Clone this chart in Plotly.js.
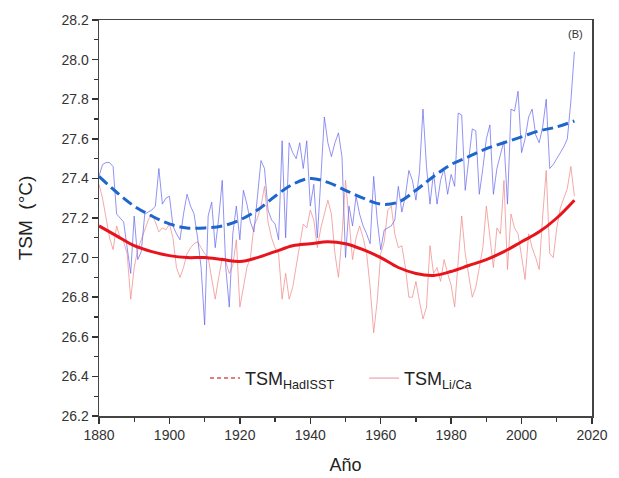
<!DOCTYPE html>
<html>
<head>
<meta charset="utf-8">
<script src="https://cdn.plot.ly/plotly-3.0.1.min.js"></script>
<style>html,body{margin:0;padding:0;background:#fff;}#chart{width:619px;height:478px;}</style>
</head>
<body>
<div id="chart"></div>
<script>
// Annual series 1880-2015
var startYear = 1880;
var hadisstRaw = [
27.41,27.47,27.48,27.48,27.46,27.22,27.20,27.18,27.05,26.92,
27.21,26.99,27.03,27.22,27.23,27.24,27.26,27.45,27.27,27.30,
27.31,27.16,27.12,27.09,27.22,27.32,27.26,27.22,27.10,26.95,
26.66,27.21,27.28,27.05,27.20,27.39,26.95,26.75,27.12,27.26,
27.09,27.34,27.27,27.18,27.13,27.32,27.49,27.45,27.24,27.19,
27.17,27.09,27.59,27.10,27.58,27.53,27.50,27.58,27.45,27.59,
27.26,27.37,27.10,27.40,27.71,27.58,27.51,27.58,27.63,27.51,
27.00,27.26,27.16,27.31,27.22,27.16,27.12,27.07,27.41,27.19,
27.04,27.14,27.15,27.16,27.19,27.36,27.23,27.31,27.44,27.39,
27.29,27.43,27.75,27.46,27.27,27.43,27.27,27.39,27.45,27.32,
27.42,27.36,27.73,27.72,27.34,27.50,27.65,27.64,27.32,27.45,
27.60,27.67,27.32,27.45,27.52,27.59,27.27,27.75,27.74,27.84,
27.53,27.60,27.71,27.75,27.62,27.58,27.66,27.80,27.45,27.47,
27.50,27.53,27.56,27.60,27.79,28.04
];
var liCaRaw = [
27.37,27.30,27.20,27.10,27.04,27.16,27.10,27.08,27.02,26.79,
26.95,27.04,27.09,27.14,27.19,27.22,27.18,27.13,27.15,27.14,
27.17,27.10,26.95,26.90,26.95,27.02,27.05,27.07,27.08,27.05,
27.02,27.00,26.90,26.79,26.90,27.00,26.98,26.92,26.96,27.09,
26.75,26.85,26.95,27.00,27.16,27.20,27.26,27.36,27.18,27.10,
27.05,27.02,26.79,26.92,26.79,26.85,26.95,27.06,27.17,27.15,
27.24,27.19,27.05,27.15,27.22,27.29,27.22,27.02,26.90,27.11,
27.39,27.20,26.99,27.10,27.16,27.10,27.02,26.85,26.62,26.78,
27.02,27.08,27.24,27.26,27.12,27.05,27.06,26.95,26.80,26.80,
26.88,26.78,26.69,26.75,27.06,26.92,26.95,26.88,26.99,26.92,
26.86,26.75,26.99,27.21,27.02,26.92,26.80,26.85,26.95,27.05,
27.26,27.10,26.95,27.15,27.12,27.39,26.94,27.22,27.15,27.12,
27.00,26.89,27.12,27.05,27.00,26.94,27.21,27.44,27.02,27.00,
27.15,27.25,27.30,27.35,27.46,27.31
];
// Smoothed curves, every 5 years
var smoothYears = [1880,1885,1890,1895,1900,1905,1910,1915,1920,1925,1930,1935,1940,1945,1950,1955,1960,1965,1970,1975,1980,1985,1990,1995,2000,2005,2010,2015];
var hadisstSmooth = [27.41,27.33,27.26,27.21,27.17,27.15,27.15,27.16,27.19,27.24,27.31,27.37,27.40,27.38,27.34,27.30,27.27,27.28,27.34,27.41,27.47,27.51,27.55,27.58,27.61,27.64,27.66,27.69];
var liCaSmooth = [27.16,27.11,27.06,27.03,27.01,27.00,27.00,26.99,26.98,27.00,27.03,27.06,27.07,27.08,27.07,27.04,27.00,26.95,26.92,26.91,26.93,26.96,26.99,27.03,27.08,27.13,27.20,27.29];

var years = [];
for (var i = 0; i < hadisstRaw.length; i++) years.push(startYear + i);

var legendNames = ['TSM<sub>HadISST</sub>&nbsp;&nbsp;&nbsp;&nbsp;&nbsp;', 'TSM<sub>Li/Ca</sub>'];

var traces = [
  {x: years, y: liCaRaw, mode: 'lines', line: {color: 'rgba(240,140,140,0.75)', width: 1}, showlegend: false, hoverinfo: 'skip'},
  {x: years, y: hadisstRaw, mode: 'lines', line: {color: 'rgba(100,100,240,0.7)', width: 1}, showlegend: false, hoverinfo: 'skip'},
  {x: smoothYears, y: liCaSmooth, mode: 'lines', line: {color: '#e8141c', width: 3, shape: 'spline'}, showlegend: false},
  {x: smoothYears, y: hadisstSmooth, mode: 'lines', line: {color: '#1e66cc', width: 3, shape: 'spline', dash: '11px,5px'}, showlegend: false},
  {x: [null], y: [null], mode: 'lines', name: legendNames[0], line: {color: '#e0505a', width: 1.5, dash: '4px,3px'}},
  {x: [null], y: [null], mode: 'lines', name: legendNames[1], line: {color: 'rgba(240,170,185,0.9)', width: 1.5}}
];

var axisFont = {family: 'Liberation Sans, Arial, sans-serif', size: 14, color: '#333'};
var layout = {
  width: 619, height: 478,
  margin: {l: 99, r: 27, t: 20, b: 62},
  paper_bgcolor: '#fff', plot_bgcolor: '#fff',
  showlegend: true,
  legend: {orientation: 'h', x: 0.215, y: 0.095, xanchor: 'left', yanchor: 'middle',
    font: {family: 'Liberation Sans, Arial, sans-serif', size: 18, color: '#222'},
    bgcolor: 'rgba(0,0,0,0)', itemwidth: 30, tracegroupgap: 0},
  xaxis: {range: [1880, 2020], dtick: 20, tick0: 1880, ticks: 'outside', ticklen: 6, tickwidth: 1.5, tickcolor: '#333',
    showline: true, linecolor: '#444', linewidth: 1.5, mirror: true, showgrid: false, zeroline: false,
    minor: {dtick: 10, ticks: 'outside', ticklen: 4, tickwidth: 1.2, tickcolor: '#333', showgrid: false},
    tickfont: axisFont,
    title: {text: 'Año', font: {family: 'Liberation Sans, Arial, sans-serif', size: 18, color: '#222'}, standoff: 16}},
  yaxis: {range: [26.2, 28.2], dtick: 0.2, tick0: 26.2, tickformat: '.1f', ticks: 'outside', ticklen: 6, tickwidth: 1.5, tickcolor: '#333',
    showline: true, linecolor: '#444', linewidth: 1.5, mirror: true, showgrid: false, zeroline: false,
    minor: {dtick: 0.1, ticks: 'outside', ticklen: 4, tickwidth: 1.2, tickcolor: '#333', showgrid: false},
    tickfont: axisFont,
    title: {text: 'TSM  (°C)', font: {family: 'Liberation Sans, Arial, sans-serif', size: 19, color: '#222'}, standoff: 24}},
  annotations: [
    {text: '(B)', xref: 'paper', yref: 'paper', x: 0.985, y: 0.985, xanchor: 'right', yanchor: 'top', showarrow: false,
     font: {family: 'Liberation Sans, Arial, sans-serif', size: 11, color: '#333'}}
  ]
};

Plotly.newPlot('chart', traces, layout, {displayModeBar: false, staticPlot: true});
</script>
</body>
</html>
